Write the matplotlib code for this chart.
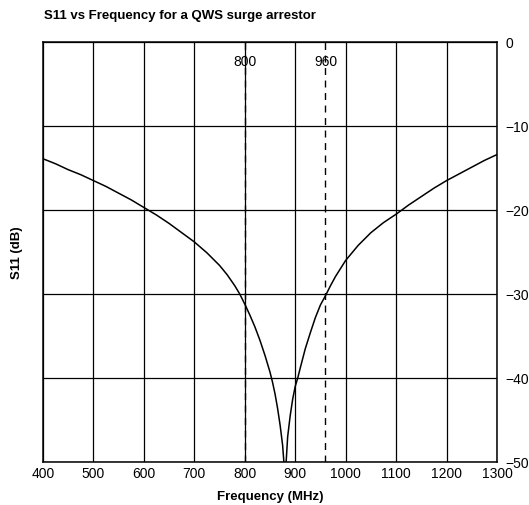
import matplotlib
matplotlib.use("Agg")
import matplotlib.pyplot as plt
from matplotlib import font_manager

# S11 curve (MHz, dB)
freq_mhz = [400, 425, 450, 475, 500, 525, 550, 575, 600, 625, 650, 675, 700,
            725, 750, 765, 780, 790, 800, 810, 820, 830, 840, 850, 855, 860,
            865, 870, 875, 880, 885, 890, 895, 900, 905, 910, 920, 930, 940,
            950, 960, 970, 980, 1000, 1025, 1050, 1075, 1100, 1125, 1150,
            1175, 1200, 1225, 1250, 1275, 1300]
s11_db = [-13.9, -14.5, -15.2, -15.8, -16.5, -17.2, -18.0, -18.8, -19.7, -20.6,
          -21.6, -22.7, -23.8, -25.1, -26.6, -27.7, -29.0, -30.0, -31.2, -32.5,
          -33.9, -35.5, -37.3, -39.3, -40.5, -41.9, -43.6, -45.6, -48.0, -52.0,
          -47.0, -44.5, -42.5, -41.0, -40.0, -38.8, -36.5, -34.6, -32.8, -31.3,
          -30.2, -29.0, -27.9, -26.0, -24.2, -22.7, -21.5, -20.5, -19.4, -18.4,
          -17.4, -16.5, -15.7, -14.9, -14.1, -13.4]

band_edges = [800, 960]
x_ticks = list(range(400, 1301, 100))
y_ticks = [0, -10, -20, -30, -40, -50]

# Liberation Sans stands in for Helvetica
reg_path, bold_path = None, None
for f in font_manager.fontManager.ttflist:
    if f.name == 'Liberation Sans' and f.style == 'normal':
        if f.weight in (400, 'normal', 'regular'):
            reg_path = f.fname
        elif f.weight in (700, 'bold'):
            bold_path = f.fname
if reg_path:
    regular = font_manager.FontProperties(fname=reg_path, size=10)
else:
    regular = font_manager.FontProperties(family='DejaVu Sans', size=9.5)
if bold_path:
    bold = font_manager.FontProperties(fname=bold_path, size=9.5)
else:
    bold = font_manager.FontProperties(family='DejaVu Sans', weight='bold', size=9)

fig = plt.figure(figsize=(5.29, 5.06), dpi=100)
ax = fig.add_axes([43 / 529, 1 - 463 / 506, 454 / 529, 420 / 506])

ax.plot(freq_mhz, s11_db, color='black', linewidth=1.1)

for f in band_edges:
    ax.axvline(f, color='black', linestyle=(0, (5, 4)), linewidth=1.0)
    ax.text(f, -2.3, str(f), ha='center', va='center', fontproperties=regular)

ax.set_xlim(400, 1300)
ax.set_ylim(-50, 0)
ax.set_xticks(x_ticks)
ax.set_yticks(y_ticks)
ax.grid(True, color='black', linewidth=0.9)
ax.yaxis.tick_right()
ax.tick_params(axis='x', length=0, pad=3)
ax.tick_params(axis='y', length=0, pad=6)
for lbl in ax.get_xticklabels() + ax.get_yticklabels():
    lbl.set_fontproperties(regular)
for spine in ax.spines.values():
    spine.set_linewidth(1.1)

fig.text(270 / 529, 1 - 497 / 506, 'Frequency (MHz)', ha='center',
         va='center', fontproperties=bold)
fig.text(17 / 529, 1 - 253 / 506, 'S11 (dB)', rotation=90, ha='center',
         va='center', fontproperties=bold)
fig.text(44 / 529, 1 - 16.5 / 506, 'S11 vs Frequency for a QWS surge arrestor',
         ha='left', va='center', fontproperties=bold)

fig.savefig('out.png', dpi=100)
